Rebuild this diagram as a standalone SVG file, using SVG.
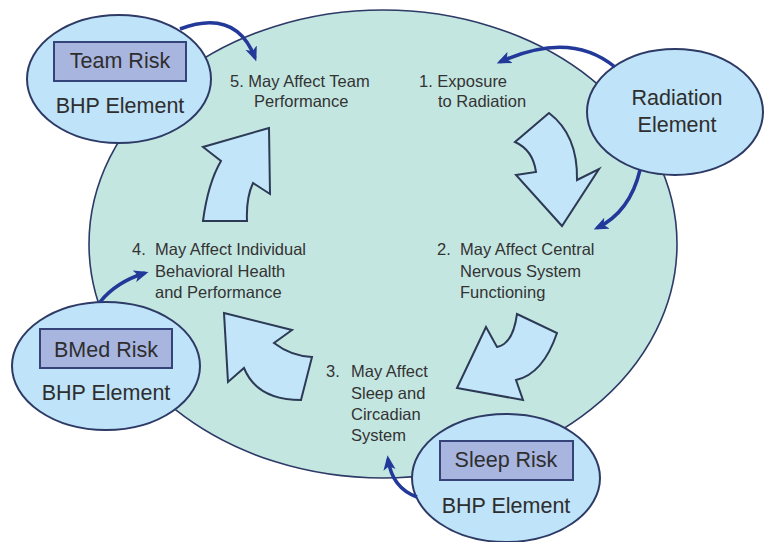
<svg xmlns="http://www.w3.org/2000/svg" width="764" height="542" viewBox="0 0 764 542">
<defs>
<style>
.big{fill:#c4e6e1;stroke:#2d3a66;stroke-width:1.6}
.el{fill:#bfe3f8;stroke:#2d3a66;stroke-width:2}
.rk{fill:#a8b5df;stroke:#344478;stroke-width:2}
.blk{fill:#c2e5f9;stroke:#2c3a55;stroke-width:2;stroke-linejoin:miter}
.lab{font-family:"Liberation Sans",Arial,sans-serif;font-size:16.5px;fill:#333}
.nt{font-family:"Liberation Sans",Arial,sans-serif;font-size:21.5px;fill:#2e2e2e;text-anchor:middle}
.con{fill:none;stroke:#22399a;stroke-width:3.5;marker-end:url(#ah)}
</style>
<marker id="ah" viewBox="0 0 12 10" refX="9" refY="5" markerWidth="4.2" markerHeight="3.6" orient="auto" markerUnits="strokeWidth">
<path d="M0,0 L12,5 L0,10 L3,5 Z" fill="#22399a"/>
</marker>
</defs>
<rect width="764" height="542" fill="#ffffff"/>
<g id="cycle">
<ellipse class="big" cx="383" cy="244" rx="294" ry="234"/>
</g>
<g id="step-arrows">
<path class="blk" d="M549,113 L515,142 Q533,150 536,172 L516,175 L562,226 L599,169 L577,180 Q578,135 549,113 Z"/>
<path class="blk" d="M517,314 L557,333 Q543,374 516,380 L523,400 L457,388 L486,327 L497,347 Q513,344 517,314 Z"/>
<path class="blk" d="M224,313 L292,330 L274,343 Q291,356 312,357 L301,400 Q257,400 244,368 L228,382 Z"/>
<path class="blk" d="M269,128 L203,147 L221,161 Q208,183 203,221 L247,221 Q246,198 253,183 L270,194 Z"/>
</g>
<g id="labels">
<text class="lab" x="419" y="87">1. Exposure</text>
<text class="lab" x="438" y="107">to Radiation</text>
<text class="lab" x="437" y="255">2.</text>
<text class="lab" x="460" y="255">May Affect Central</text>
<text class="lab" x="460" y="277">Nervous System</text>
<text class="lab" x="460" y="298">Functioning</text>
<text class="lab" x="326" y="377">3.</text>
<text class="lab" x="351" y="377">May Affect</text>
<text class="lab" x="351" y="399">Sleep and</text>
<text class="lab" x="351" y="420">Circadian</text>
<text class="lab" x="351" y="441">System</text>
<text class="lab" x="132" y="255">4.</text>
<text class="lab" x="155" y="255">May Affect Individual</text>
<text class="lab" x="155" y="277">Behavioral Health</text>
<text class="lab" x="155" y="298">and Performance</text>
<text class="lab" x="230" y="87">5. May Affect Team</text>
<text class="lab" x="254" y="107">Performance</text>
</g>
<g id="team-risk">
<ellipse class="el" cx="119" cy="79" rx="92" ry="64"/>
<rect class="rk" x="54" y="42" width="132" height="39"/>
<text class="nt" x="120" y="68">Team Risk</text>
<text class="nt" x="120" y="113">BHP Element</text>
</g>
<g id="radiation">
<ellipse class="el" cx="675" cy="112" rx="88" ry="63"/>
<text class="nt" x="677" y="105">Radiation</text>
<text class="nt" x="677" y="132">Element</text>
</g>
<g id="bmed-risk">
<ellipse class="el" cx="106" cy="366" rx="94" ry="64"/>
<rect class="rk" x="40" y="329" width="132" height="39"/>
<text class="nt" x="106" y="357">BMed Risk</text>
<text class="nt" x="106" y="400">BHP Element</text>
</g>
<g id="sleep-risk">
<ellipse class="el" cx="506" cy="478" rx="94" ry="64"/>
<rect class="rk" x="440" y="441" width="133" height="39"/>
<text class="nt" x="506" y="467">Sleep Risk</text>
<text class="nt" x="506" y="513">BHP Element</text>
</g>
<g id="connectors">
<path class="con" d="M180,29 Q236,8 255,58"/>
<path class="con" d="M615,67 Q570,30 500,62"/>
<path class="con" d="M640,170 Q630,212 597,228"/>
<path class="con" d="M100,302 Q116,282 145,273"/>
<path class="con" d="M417,497 Q392,488 388,459"/>
</g>
</svg>
